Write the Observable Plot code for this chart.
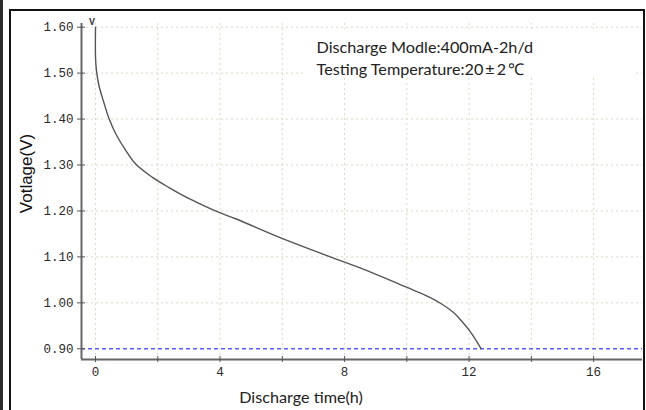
<!DOCTYPE html>
<html><head><meta charset="utf-8">
<script src="https://cdn.jsdelivr.net/npm/d3@7"></script>
<script src="https://cdn.jsdelivr.net/npm/@observablehq/plot@0.6"></script>
<style>
html,body{margin:0;padding:0;background:#fff;}
#wrap{position:relative;width:646px;height:410px;overflow:hidden;background:#fff;}
#bar{position:absolute;left:0;top:0;width:3px;height:410px;background:#2b2b2b;}
#box{position:absolute;left:9px;top:9px;width:632px;height:420px;border:2px solid #111;border-bottom:none;}
#chart{position:absolute;left:0;top:0;}
#chart g[aria-label$="tick label"]{font-size:12.5px !important;font-family:"Liberation Mono",monospace !important;}
</style></head><body>
<div id="wrap"><div id="bar"></div><div id="box"></div><div id="chart"></div></div>
<script>
// Discharge curve
const hours = [0, 0, 0.03, 0.11, 0.25, 0.44, 0.65, 0.97, 1.29, 1.83, 2.36, 3.06, 3.85, 4.5, 5.93, 7.39, 8.5, 9.99, 10.74, 11.13, 11.5, 11.7, 12.02, 12.39];
const volts = [1.60, 1.535, 1.506, 1.473, 1.44, 1.40, 1.368, 1.332, 1.302, 1.273, 1.251, 1.225, 1.20, 1.183, 1.142, 1.104, 1.076, 1.034, 1.012, 0.997, 0.979, 0.965, 0.939, 0.90];

const xTickValues = [0, 2, 4, 6, 8, 10, 12, 14, 16];
const xLabelEvery = 4;
const yTickValues = [0.90, 1.00, 1.10, 1.20, 1.30, 1.40, 1.50, 1.60];
const cutoffVoltage = [0.90];
const annotationLines = ["Discharge Modle:400mA-2h/d", "Testing Temperature:20\u2009\u00b1\u20092\u2009\u2103"];
const xTitle = "Discharge time(h)";
const yTitle = "Votlage(V)";
const yUnit = "V";

// layout (data units)
const xDomain = [-0.45, 17.57];
const yDomain = [0.8767, 1.608];
const annotationX = 7.1;
const annotationY = [1.544, 1.495];
const annotationBox = {x1: 6.74, x2: 17.34, y1: 1.49, y2: 1.595};

const data = hours.map((h, i) => ({h, v: volts[i]}));
const gridColor = "#d9d9c2";

const plot = Plot.plot({
  width: 646, height: 410,
  marginLeft: 81, marginRight: 4, marginTop: 23, marginBottom: 51,
  x: {domain: xDomain},
  y: {domain: yDomain},
  style: {background: "transparent", fontFamily: "Liberation Mono", fontSize: "12.5px"},
  marks: [
    Plot.gridX(xTickValues, {stroke: gridColor, strokeOpacity: 1, strokeDasharray: "2,3"}),
    Plot.gridY(yTickValues.filter(v => v > 0.9), {stroke: gridColor, strokeOpacity: 1, strokeDasharray: "2,3"}),
    Plot.rect([annotationBox], {x1: "x1", x2: "x2", y1: "y1", y2: "y2", fill: "white"}),
    Plot.ruleY(cutoffVoltage, {stroke: "#5b5bff", strokeWidth: 1.5, strokeDasharray: "4,3"}),
    Plot.line(data, {x: "h", y: "v", stroke: "#555", strokeWidth: 1.4, curve: "catmull-rom"}),
    Plot.ruleX([xDomain[0]], {stroke: "#666", strokeWidth: 2}),
    Plot.ruleY([yDomain[0]], {stroke: "#666", strokeWidth: 2}),
    Plot.axisY(yTickValues, {tickSize: 8, dx: 4, tickPadding: 4, tickFormat: d => d.toFixed(2),
      fontSize: 12.5, fill: "#2a2a2a", stroke: "#555", label: null}),
    Plot.axisX(xTickValues, {tickSize: 6, dy: -3, tickPadding: 5,
      tickFormat: d => d % xLabelEvery === 0 ? String(d) : "",
      fontSize: 12.5, fill: "#2a2a2a", stroke: "#555", label: null}),
    Plot.text(annotationLines, {x: () => annotationX, y: (d, i) => annotationY[i], text: d => d,
      textAnchor: "start", lineAnchor: "bottom", fontSize: 16.2, fontFamily: "Lato", fill: "#222"}),
    Plot.text([xTitle], {frameAnchor: "bottom", dx: -61, dy: 43, lineAnchor: "bottom", textAnchor: "middle",
      fontSize: 16.2, fontFamily: "Lato", fill: "#222"}),
    Plot.text([yTitle], {frameAnchor: "left", rotate: -90, dx: -55, dy: -18, textAnchor: "middle", lineAnchor: "middle",
      fontSize: 17, fontFamily: "Liberation Sans", fill: "#111"}),
    Plot.text([yUnit], {frameAnchor: "top-left", dx: 10.5, dy: -1.5, textAnchor: "middle", lineAnchor: "middle",
      fontSize: 10, fontWeight: "bold", fontFamily: "Liberation Mono", fill: "#444"})
  ]
});
document.getElementById("chart").appendChild(plot);
</script>
</body></html>
